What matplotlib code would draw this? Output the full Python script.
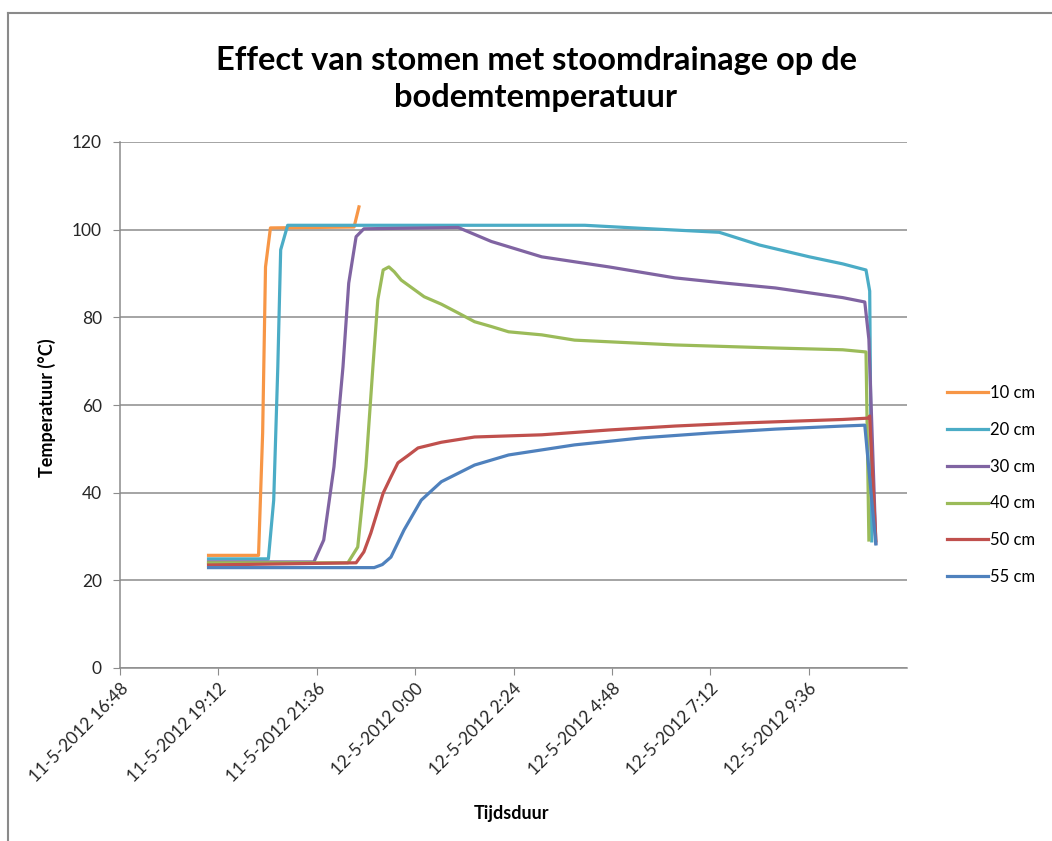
import matplotlib
matplotlib.use("Agg")
import matplotlib.pyplot as plt
import matplotlib.dates as mdates
from matplotlib.lines import Line2D
from datetime import datetime, timedelta

plt.rcParams['font.family'] = ['Lato', 'DejaVu Sans']

# ============================
# data: time in hours since 11-5-2012 00:00, temperature in °C
t_10 = [18.96, 20.18, 20.28, 20.35, 20.47, 22.51, 22.63]
v_10 = [25.7, 25.7, 53.6, 91.5, 100.4, 100.6, 105.2]

t_20 = [18.96, 20.42, 20.55, 20.65, 20.72, 20.89, 24.64, 28.14, 29.53, 31.42,
        32.40, 33.62, 34.43, 35.00, 35.09, 35.14]
v_20 = [24.9, 24.9, 38.3, 68.7, 95.4, 101.0, 101.0, 101.0, 100.3, 99.4,
        96.5, 93.8, 92.2, 90.8, 86.0, 29.0]

t_30 = [18.96, 21.53, 21.77, 22.02, 22.24, 22.38, 22.56, 22.75, 25.05, 25.86,
        27.09, 28.73, 30.34, 31.57, 32.79, 34.43, 34.97, 35.07, 35.24]
v_30 = [24.2, 24.2, 29.2, 45.9, 68.7, 87.8, 98.4, 100.2, 100.5, 97.3,
        93.8, 91.5, 89.0, 87.8, 86.7, 84.5, 83.5, 75.0, 28.5]

t_40 = [18.96, 22.36, 22.60, 22.80, 22.97, 23.09, 23.22, 23.36, 23.49, 23.66,
        24.22, 24.64, 25.05, 25.45, 25.86, 26.28, 27.09, 27.89, 30.34, 32.79,
        34.43, 35.00, 35.07]
v_40 = [24.0, 24.0, 27.6, 45.9, 68.7, 84.0, 90.8, 91.5, 90.4, 88.5,
        84.7, 83.0, 81.0, 79.0, 77.9, 76.7, 76.0, 74.8, 73.7, 73.0,
        72.6, 72.1, 29.2]

t_50 = [18.96, 22.56, 22.75, 22.92, 23.22, 23.41, 23.58, 23.83, 24.07, 24.64, 25.45,
        27.09, 28.73, 30.34, 31.98, 34.43, 35.05, 35.09, 35.24]
v_50 = [23.5, 24.0, 26.5, 30.8, 39.9, 43.6, 46.8, 48.5, 50.2, 51.5, 52.7,
        53.2, 54.3, 55.2, 55.9, 56.7, 57.0, 57.5, 29.0]

t_55 = [18.96, 23.00, 23.20, 23.41, 23.73, 24.15, 24.64, 25.45, 26.28, 27.89, 29.53,
        31.18, 32.79, 34.43, 34.97, 35.24]
v_55 = [22.9, 22.9, 23.6, 25.3, 31.5, 38.3, 42.5, 46.3, 48.6, 50.9, 52.5,
        53.6, 54.5, 55.2, 55.4, 28.3]

labels = ['10 cm', '20 cm', '30 cm', '40 cm', '50 cm', '55 cm']
colors = ['#F79646', '#4BACC6', '#8064A2', '#9BBB59', '#C0504D', '#4F81BD']

# ============================
base = datetime(2012, 5, 11)


def to_dates(hours):
    return [mdates.date2num(base + timedelta(hours=h)) for h in hours]


fig = plt.figure(figsize=(10.52, 8.41), dpi=100)
ax = fig.add_axes([120 / 1052, 1 - 668 / 841, 787 / 1052, 526 / 841])

series = [(t_10, v_10), (t_20, v_20), (t_30, v_30),
          (t_40, v_40), (t_50, v_50), (t_55, v_55)]
for (t, v), lab, c in zip(series, labels, colors):
    ax.plot(to_dates(t), v, color=c, lw=2.3, label=lab, solid_joinstyle='round')

# axes ranges
x0 = base + timedelta(hours=16.8)
ax.set_xlim(mdates.date2num(x0), mdates.date2num(x0 + timedelta(hours=19.2)))
ax.set_ylim(0, 120)
ax.set_yticks(range(0, 121, 20))

ticks = [x0 + timedelta(hours=2.4 * k) for k in range(8)]
ax.set_xticks([mdates.date2num(d) for d in ticks])
ax.set_xticklabels([f"{d.day}-{d.month}-{d.year} {d.hour}:{d.minute:02d}" for d in ticks],
                   rotation=45, ha='right', rotation_mode='anchor')

ax.grid(axis='y', color='#8c8c8c', lw=1.1)
ax.set_axisbelow(True)
for s in ['top', 'right']:
    ax.spines[s].set_visible(False)
for s in ['left', 'bottom']:
    ax.spines[s].set_color('#8c8c8c')
    ax.spines[s].set_linewidth(1.1)
ax.tick_params(axis='y', length=5, color='#8c8c8c', pad=8, labelsize=12.5, labelcolor='#262626')
ax.tick_params(axis='x', length=5, color='#8c8c8c', pad=4, labelsize=12.5, labelcolor='#262626')

# labels and title
fig.text(47 / 1052, 1 - 408 / 841, 'Temperatuur (°C)', rotation=90, ha='center', va='center',
         fontsize=13, fontweight='bold')
fig.text(512 / 1052, 1 - 813 / 841, 'Tijdsduur', ha='center', va='center',
         fontsize=13, fontweight='bold')
fig.text(536 / 1052, 1 - 79 / 841, 'Effect van stomen met stoomdrainage op de\nbodemtemperatuur',
         ha='center', va='center', fontsize=23.5, fontweight='bold', linespacing=1.3)

ax.legend(loc='center left', bbox_to_anchor=(940 / 1052, 1 - 485 / 841),
          bbox_transform=fig.transFigure, frameon=False, fontsize=12,
          handlelength=2.5, handletextpad=0.1, labelspacing=1.25, borderaxespad=0)

# outer chart border
fig.add_artist(Line2D([8 / 1052, 8 / 1052], [0, 1 - 13 / 841], color='#8a8a8a', lw=1.5))
fig.add_artist(Line2D([8 / 1052, 1], [1 - 13 / 841, 1 - 13 / 841], color='#8a8a8a', lw=1.5))

fig.savefig('out.png', dpi=100)
